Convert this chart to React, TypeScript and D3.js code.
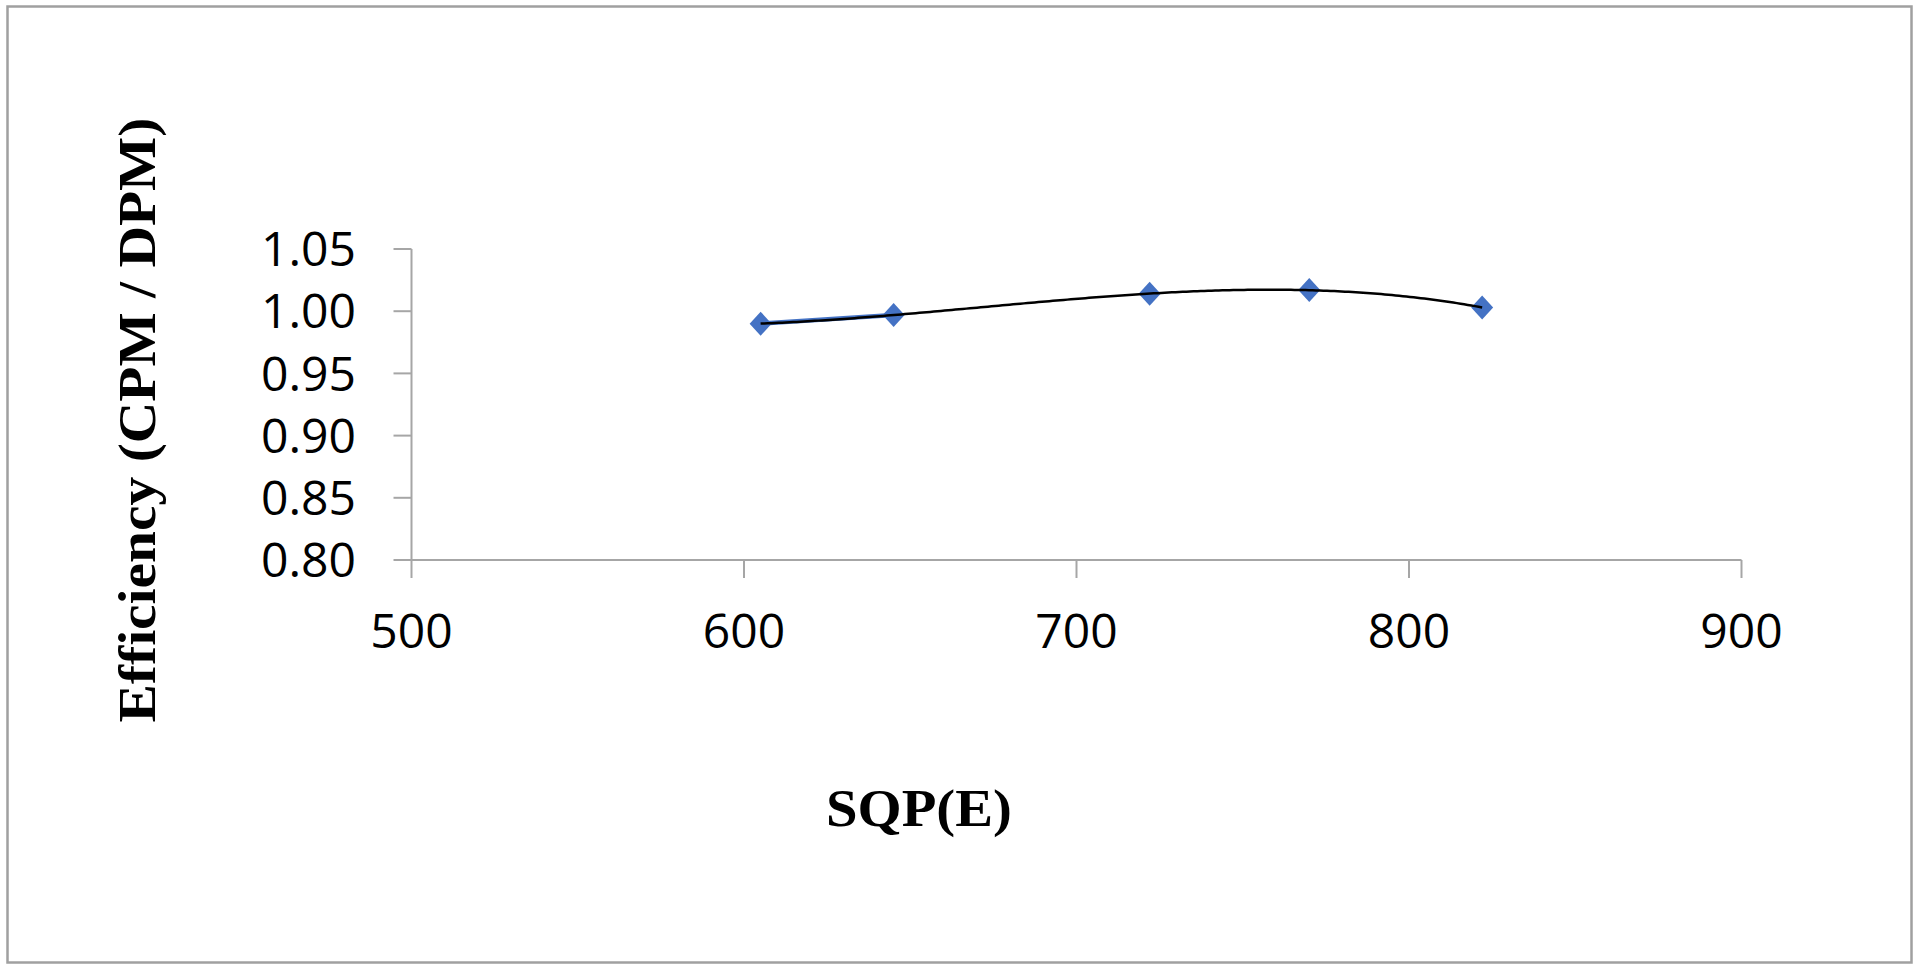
import React from "react";
import * as d3 from "d3";

const sqpValues = [605, 645, 722, 770, 822];
const efficiencyValues = [0.99, 0.997, 1.014, 1.017, 1.003];
const xTicks = [500, 600, 700, 800, 900];
const yTicks = [0.8, 0.85, 0.9, 0.95, 1.0, 1.05];
const connectedCount = 2; // series line drawn only between first two points

const W = 1920;
const H = 971;
const plot = { left: 411.5, right: 1741.5, top: 249, bottom: 560 };

function polyFit(xs: number[], ys: number[], order: number): number[] {
  const n = order + 1;
  const A: number[][] = Array.from({ length: n }, () => new Array(n + 1).fill(0));
  for (let r = 0; r < n; r++) {
    for (let c = 0; c < n; c++) {
      A[r][c] = xs.reduce((s, x) => s + Math.pow(x, r + c), 0);
    }
    A[r][n] = xs.reduce((s, x, i) => s + ys[i] * Math.pow(x, r), 0);
  }
  for (let i = 0; i < n; i++) {
    let p = i;
    for (let k = i + 1; k < n; k++) if (Math.abs(A[k][i]) > Math.abs(A[p][i])) p = k;
    [A[i], A[p]] = [A[p], A[i]];
    for (let k = i + 1; k < n; k++) {
      const f = A[k][i] / A[i][i];
      for (let j = i; j <= n; j++) A[k][j] -= f * A[i][j];
    }
  }
  const coef = new Array(n).fill(0);
  for (let i = n - 1; i >= 0; i--) {
    let s = A[i][n];
    for (let j = i + 1; j < n; j++) s -= A[i][j] * coef[j];
    coef[i] = s / A[i][i];
  }
  return coef;
}

export default function App() {
  const x = d3.scaleLinear().domain([500, 900]).range([plot.left, plot.right]);
  const y = d3.scaleLinear().domain([0.8, 1.05]).range([plot.bottom, plot.top]);

  const data = sqpValues.map((v, i) => ({ x: v, y: efficiencyValues[i] }));

  // Polynomial (order 3) trendline computed from data
  const xc = sqpValues.map((v) => (v - 700) / 100);
  const coef = polyFit(xc, efficiencyValues, 3);
  const evalPoly = (v: number) => {
    const t = (v - 700) / 100;
    return coef.reduce((s, c, i) => s + c * Math.pow(t, i), 0);
  };
  const x0 = d3.min(sqpValues) as number;
  const x1 = d3.max(sqpValues) as number;
  const trendPts = d3.range(0, 201).map((i) => {
    const v = x0 + ((x1 - x0) * i) / 200;
    return [x(v), y(evalPoly(v))] as [number, number];
  });
  const trendPath = d3.line()(trendPts) || "";

  const seriesPath =
    d3
      .line<{ x: number; y: number }>()
      .x((d) => x(d.x))
      .y((d) => y(d.y))(data.slice(0, connectedCount)) || "";

  const axisColor = "#a6a6a6";
  const tickLen = 18;
  const dw = 11;
  const dh = 12;

  return (
    <svg
      width={W}
      height={H}
      style={{ position: "absolute", left: 0, top: 0, background: "#fff" }}
    >
      <rect x={0} y={0} width={W} height={H} fill="#fff" />
      <rect
        x={7.5}
        y={6.5}
        width={1904}
        height={956}
        fill="none"
        stroke="#a0a0a0"
        strokeWidth={2.5}
      />

      {/* Y axis */}
      <line x1={plot.left} x2={plot.left} y1={plot.top} y2={plot.bottom} stroke={axisColor} strokeWidth={2} />
      {yTicks.map((t) => (
        <g key={"y" + t}>
          <line x1={plot.left - tickLen} x2={plot.left} y1={y(t)} y2={y(t)} stroke={axisColor} strokeWidth={2} />
          <text
            x={356}
            y={y(t)}
            dy="0.36em"
            textAnchor="end"
            fontFamily="'Open Sans', sans-serif"
            fontSize={48}
            fill="#000"
          >
            {t.toFixed(2)}
          </text>
        </g>
      ))}

      {/* X axis */}
      <line x1={plot.left} x2={plot.right} y1={plot.bottom} y2={plot.bottom} stroke={axisColor} strokeWidth={2} />
      {xTicks.map((t) => (
        <g key={"x" + t}>
          <line x1={x(t)} x2={x(t)} y1={plot.bottom} y2={plot.bottom + tickLen} stroke={axisColor} strokeWidth={2} />
          <text
            x={x(t)}
            y={648}
            textAnchor="middle"
            fontFamily="'Open Sans', sans-serif"
            fontSize={48}
            fill="#000"
          >
            {t}
          </text>
        </g>
      ))}

      {/* Series line */}
      <path d={seriesPath} fill="none" stroke="#4472C4" strokeWidth={4.5} />

      {/* Markers */}
      {data.map((d, i) => {
        const cx = x(d.x);
        const cy = y(d.y);
        return (
          <path
            key={"m" + i}
            d={`M${cx},${cy - dh}L${cx + dw},${cy}L${cx},${cy + dh}L${cx - dw},${cy}Z`}
            fill="#4472C4"
          />
        );
      })}

      {/* Trendline */}
      <path d={trendPath} fill="none" stroke="#000" strokeWidth={2.5} />

      {/* Axis titles */}
      <text
        transform="translate(155,420) rotate(-90)"
        textAnchor="middle"
        fontFamily="'Liberation Serif', 'Times New Roman', serif"
        fontWeight="bold"
        fontSize={52}
        textLength={605}
        lengthAdjust="spacingAndGlyphs"
        fill="#000"
      >
        Efficiency (CPM / DPM)
      </text>
      <text
        x={919}
        y={826}
        textAnchor="middle"
        fontFamily="'Liberation Serif', 'Times New Roman', serif"
        fontWeight="bold"
        fontSize={52}
        textLength={186}
        lengthAdjust="spacingAndGlyphs"
        fill="#000"
      >
        SQP(E)
      </text>
    </svg>
  );
}
